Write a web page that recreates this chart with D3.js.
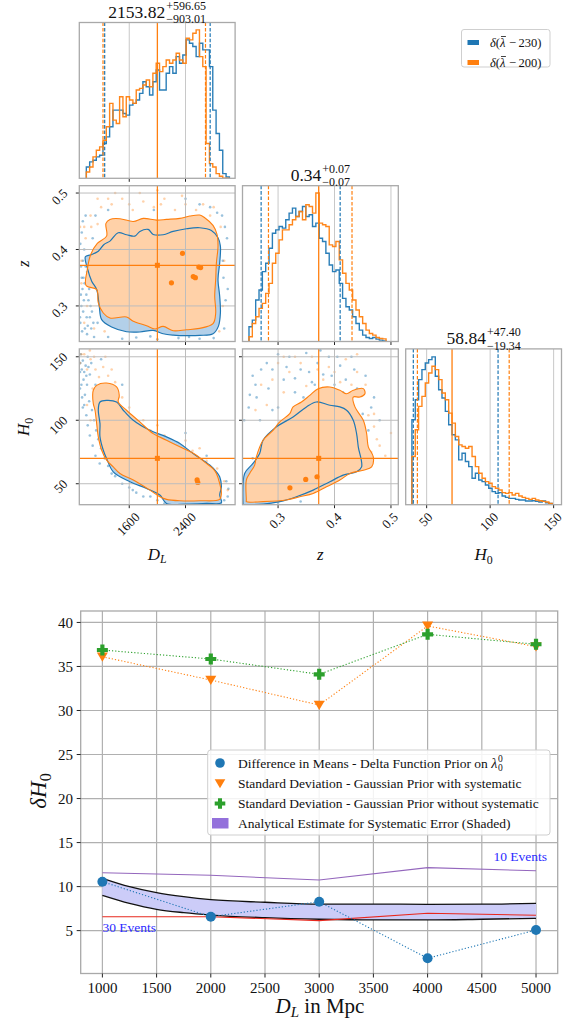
<!DOCTYPE html>
<html><head><meta charset="utf-8">
<script src="https://cdn.jsdelivr.net/npm/d3@7"></script>
<style>body{margin:0;background:#fff}svg{display:block}text{font-family:"Liberation Serif","Times New Roman",serif;fill:#111}</style>
</head><body>
<svg id="c" width="574" height="1025" font-family="Liberation Serif, Times New Roman, serif"></svg>
<script>
// ---------------- DATA: corner plot ----------------
const cornerVars = ["DL", "z", "H0"];
const axisDomains = {DL: [890, 3105], z: [0.237, 0.513], H0: [33.5, 156.2]};
const cornerTicks = {DL: [1600, 2400], z: [0.3, 0.4, 0.5], H0: [50, 100, 150]};
const truthValues = {DL: 2000, z: 0.372, H0: 70};
const titleDL = ["2153.82", "+596.65", "\u2212903.01"];
const titleZ = ["0.34", "+0.07", "\u22120.07"];
const titleH0 = ["58.84", "+47.40", "\u221219.34"];
const legendTop = ["230", "200"];

const dlHistRange = [990, 3024];
const dlHistBlue = [34,49,54,64,69,104,124,154,204,204,204,194,189,219,224,234,254,289,274,249,289,324,264,264,314,334,314,364,344,369,414,404,394,364,404,384,384,334,204,134,84,14,4];
const dlHistOrange = [19,34,64,84,94,114,154,224,174,164,244,184,244,234,224,264,269,279,294,274,314,344,319,334,354,344,354,374,354,344,419,414,434,444,364,334,104,44,34,14,6,0,0];
const zHistRange = [0.2485, 0.4913];
const zHistBlue = [44,64,124,154,209,234,279,324,334,344,339,364,384,399,374,389,404,374,379,344,354,309,299,264,229,209,214,174,129,104,94,74,54,34,19,12,9,12,7,4,2];
const zHistOrange = [14,54,74,99,114,144,174,234,264,304,334,334,349,364,374,389,364,409,404,384,444,354,349,344,289,284,299,244,204,174,154,124,94,74,54,34,24,19,12,9,8];
const h0HistRange = [38.4, 148.9];
const h0HistBlue = [254,314,374,404,424,434,442,384,344,319,279,239,209,194,134,154,129,114,79,94,74,69,59,49,39,34,36,26,22,19,19,16,14,14,11,11,12,10,8,11,6,4];
const h0HistOrange = [144,224,294,324,364,394,414,404,374,334,314,274,244,204,179,174,169,174,144,114,94,79,69,64,54,49,44,36,34,36,29,34,26,22,19,16,19,14,12,10,8,4];
const histMax = 466;

const dlQuantBlue = [1250.8, 2750.5], dlQuantOrange = [1227, 2684];
const zQuantBlue = [0.27, 0.41], zQuantOrange = [0.283, 0.431];
const h0QuantBlue = [39.5, 106.24], h0QuantOrange = [42.7, 115];

const contourZDLOrange = [[1269,0.4462],[1326,0.4533],[1468,0.4545],[1657,0.4497],[1799,0.4551],[1988,0.4521],[2130,0.4533],[2319,0.4551],[2460,0.4592],[2602,0.461],[2673,0.4562],[2791,0.4426],[2848,0.4266],[2862,0.4059],[2839,0.3763],[2829,0.3467],[2815,0.3171],[2829,0.2875],[2791,0.2686],[2602,0.2603],[2413,0.2579],[2224,0.2561],[2082,0.2638],[1964,0.2591],[1846,0.265],[1657,0.2727],[1562,0.2804],[1326,0.2786],[1231,0.2875],[1160,0.3053],[1137,0.329],[986,0.3361],[1004,0.3645],[1052,0.3911],[1146,0.4107],[1278,0.4237]];
const contourZDLBlue = [[1326,0.4148],[1444,0.4296],[1562,0.4261],[1680,0.4237],[1751,0.432],[1869,0.4355],[1940,0.4266],[2082,0.4261],[2224,0.432],[2413,0.4367],[2602,0.4385],[2768,0.4337],[2862,0.4207],[2896,0.4059],[2886,0.3763],[2862,0.3467],[2886,0.3171],[2896,0.2875],[2867,0.2638],[2791,0.2508],[2602,0.2478],[2413,0.2473],[2224,0.2484],[2082,0.2508],[1940,0.2567],[1751,0.2538],[1562,0.2543],[1349,0.2626],[1208,0.2757],[1174,0.2994],[1137,0.329],[1066,0.3438],[1004,0.3674],[976,0.387],[1052,0.3905],[1160,0.397],[1241,0.4089]];
const contourH0DLOrange = [[1137,127.5],[1278,129.3],[1420,126.2],[1458,119.6],[1444,114.4],[1562,107.9],[1751,98.7],[1940,89.5],[2130,84.3],[2319,79.1],[2555,72.5],[2697,66.0],[2791,62.0],[2839,58.1],[2886,50.2],[2910,42.4],[2886,37.7],[2602,36.6],[2319,36.6],[2130,37.7],[2035,39.8],[1893,45.0],[1657,52.9],[1468,58.1],[1373,63.3],[1278,68.6],[1208,76.4],[1160,86.9],[1137,97.4],[1113,107.9],[1089,113.1],[1080,119.6],[1089,123.6]];
const contourH0DLBlue = [[1184,114.4],[1278,115.7],[1420,114.4],[1515,107.9],[1657,100],[1893,92.1],[2130,86.9],[2319,81.7],[2508,73.8],[2744,64.7],[2839,59.4],[2886,55.5],[2910,47.6],[2886,41.1],[2910,35.1],[2697,34.5],[2413,34.0],[2130,34.5],[2035,41.1],[1846,46.3],[1609,51.6],[1373,59.4],[1278,69.9],[1231,76.4],[1184,86.9],[1184,97.4],[1160,107.9]];
const contourH0ZOrange = [[0.2438,37.2],[0.2438,52.9],[0.2497,58.1],[0.2586,64.7],[0.2615,71.2],[0.2734,84.3],[0.2911,92.1],[0.303,98.7],[0.3207,105.2],[0.3266,110.5],[0.3414,114.4],[0.3562,119.6],[0.371,124.9],[0.3918,126.2],[0.4095,123.6],[0.4214,120.9],[0.4332,123.6],[0.451,124.9],[0.4539,120.9],[0.4451,118.3],[0.4332,118.3],[0.4362,110.5],[0.451,100],[0.4569,89.5],[0.4599,79.1],[0.4687,71.2],[0.4658,63.3],[0.451,60.7],[0.4273,58.1],[0.4095,52.9],[0.3858,47.6],[0.3622,42.4],[0.3385,39.8],[0.3148,37.2],[0.2734,35.9],[0.2438,35.9]];
const contourH0ZBlue = [[0.2378,34.5],[0.2408,58.1],[0.2556,66.0],[0.2674,73.8],[0.2734,84.3],[0.297,94.8],[0.3266,102.6],[0.3503,110.5],[0.3681,114.4],[0.3918,111.8],[0.4095,110.5],[0.4214,107.9],[0.4332,100],[0.4391,89.5],[0.4421,79.1],[0.448,63.3],[0.4391,59.4],[0.4154,56.8],[0.3918,51.6],[0.3622,45.0],[0.3326,39.8],[0.303,35.9],[0.2734,34.0],[0.2378,34.0]];

const scatterZDLBlue = [[905,0.27],[920,0.30],[935,0.33],[950,0.35],[915,0.37],[945,0.29],[970,0.26],[1000,0.25],[1040,0.28],[1020,0.31],[960,0.40],[990,0.32],[1060,0.26],[1100,0.245],[1150,0.27],[1300,0.245],[1500,0.242],[1700,0.244],[2000,0.241],[2300,0.243],[2600,0.242],[2800,0.243],[2950,0.26],[2970,0.31],[2940,0.35],[2990,0.42],[2920,0.46],[2750,0.475],[2600,0.48],[2400,0.49],[1950,0.47],[1300,0.47],[940,0.45],[1080,0.42],[1000,0.36],[930,0.255],[900,0.28],[912,0.32],[925,0.35],[940,0.38],[955,0.31],[965,0.34],[980,0.37],[995,0.28],[1010,0.265],[1030,0.33],[1050,0.30],[1070,0.29],[1090,0.27],[905,0.41],[925,0.43],[980,0.46],[1120,0.46],[2930,0.38],[2960,0.44],[3000,0.33],[2850,0.465],[2700,0.25],[2450,0.245],[1900,0.246]];
const scatterZDLOrange = [[1050,0.46],[1200,0.475],[1350,0.48],[1500,0.49],[1650,0.47],[1800,0.485],[1950,0.475],[2100,0.49],[2250,0.47],[2400,0.48],[2550,0.47],[2750,0.46],[2900,0.44],[2950,0.38],[2930,0.30],[900,0.44],[980,0.42],[1000,0.30],[1100,0.26],[1250,0.255],[2880,0.255],[1400,0.50],[2000,0.505],[920,0.34],[1150,0.445],[1150,0.49],[1300,0.49],[1600,0.48],[1750,0.50],[2050,0.48],[2350,0.495],[2650,0.48],[2800,0.475],[960,0.44],[1060,0.44],[920,0.38],[960,0.27]];
const scatterH0DLBlue = [[910,152],[940,147],[980,143],[1010,150],[900,138],[950,132],[1000,128],[1040,136],[970,120],[1030,115],[1070,108],[1100,100],[1130,92],[1160,85],[1200,78],[1250,70],[1300,64],[1400,56],[1500,50],[1650,45],[1800,40],[2000,37],[2300,35.5],[2600,35],[2800,35.5],[2950,37],[3000,40],[3010,46],[2980,52],[920,128],[1060,145],[1120,128],[1200,148],[940,110],[1500,128],[2400,90],[2700,72],[905,145],[925,140],[960,138],[990,135],[1020,142],[900,125],[930,118],[960,112],[990,104],[1010,96],[1040,88],[1080,80],[1120,72],[1180,66],[1350,58],[1600,47],[1900,40],[2200,36],[2500,35],[2850,36],[2900,34.5],[2100,34.5],[1700,43]];
const scatterH0DLOrange = [[960,152],[1000,140],[1050,148],[1120,140],[1170,134],[1230,142],[1300,135],[1080,125],[1000,112],[1050,100],[1150,110],[1450,118],[1550,105],[1700,98],[1900,92],[2100,88],[2300,82],[2500,76],[2700,68],[2850,62],[2950,52],[3000,45],[900,145],[1350,125],[1800,100],[1250,80],[920,152],[1040,155],[1100,150],[1260,150],[1350,140],[1400,130],[1500,118],[1600,110],[2000,96],[2400,84],[2600,78],[1180,125]];
const scatterH0ZBlue = [[0.255,135],[0.262,118],[0.268,100],[0.283,125],[0.29,140],[0.30,110],[0.31,132],[0.32,150],[0.33,122],[0.34,140],[0.35,153],[0.36,130],[0.37,145],[0.375,155],[0.38,136],[0.39,150],[0.40,128],[0.41,143],[0.42,132],[0.43,150],[0.44,125],[0.45,105],[0.46,92],[0.47,118],[0.48,100],[0.29,108],[0.245,40],[0.25,36],[0.27,35],[0.30,35],[0.34,36],[0.242,45],[0.26,38],[0.25,120],[0.26,128],[0.27,140],[0.28,145],[0.30,152],[0.315,142],[0.33,133],[0.345,118],[0.355,138],[0.365,128],[0.385,125],[0.395,135],[0.405,150],[0.415,122],[0.435,140],[0.455,135],[0.465,110],[0.245,52],[0.25,60],[0.255,70],[0.24,100],[0.248,110]];
const scatterH0ZOrange = [[0.27,128],[0.28,112],[0.30,145],[0.32,138],[0.33,150],[0.35,127],[0.36,150],[0.38,132],[0.39,142],[0.41,130],[0.42,148],[0.44,138],[0.455,128],[0.46,104],[0.47,95],[0.48,80],[0.49,72],[0.44,152],[0.31,122],[0.26,108],[0.45,85],[0.29,132],[0.31,150],[0.34,145],[0.37,140],[0.40,138],[0.43,128],[0.47,105],[0.475,85],[0.465,75],[0.50,90]];
const blobsZDL = [[2357,0.393],[2590,0.369],[2615,0.368],[2510,0.352],[2540,0.350],[2200,0.341]];
const blobsH0DL = [[2565,53],[2575,51]];
const blobsH0Z = [[0.349,53.4],[0.369,55.5],[0.321,46.8]];

// ---------------- DATA: bottom chart ----------------
const distances = [1000, 2000, 3000, 4000, 5000];
const diffMeans = [10.56, 6.58, 8.28, 1.86, 5.07];
const stdWithSys = [36.1, 33.46, 30.62, 39.6, 37.25];
const stdWithoutSys = [36.87, 35.85, 34.11, 38.65, 37.52];
const events10 = [11.58, 11.28, 10.75, 12.15, 11.8];
const events30 = [6.58, 6.58, 6.13, 6.97, 6.74];
const bandDistances = [1000, 1250, 1500, 1750, 2000, 2500, 3000, 3500, 4000, 4500, 5000];
const bandUpper = [10.94, 9.99, 9.31, 8.85, 8.51, 8.22, 8.02, 8.02, 7.98, 8.0, 8.1];
const bandLower = [9.01, 8.1, 7.42, 7.04, 6.77, 6.47, 6.29, 6.21, 6.21, 6.29, 6.4];
const xTicksBottom = [1000, 1500, 2000, 2500, 3000, 3500, 4000, 4500, 5000];
const yTicksBottom = [5, 10, 15, 20, 25, 30, 35, 40];
const legendLabels = ["Difference in Means - Delta Function Prior on", "Standard Deviation - Gaussian Prior with systematic", "Standard Deviation - Gaussian Prior without systematic", "Analytical Estimate for Systematic Error (Shaded)"];

// ---------------- DRAW ----------------
const FONT = "Liberation Serif, Times New Roman, serif";
const BLUE = "#1f77b4", ORANGE = "#ff7f0e", GREEN = "#2ca02c";
const svg = d3.select("#c");
svg.append("rect").attr("width", 574).attr("height", 1025).attr("fill", "#fff");
const defs = svg.append("defs");
const PS = 155.8, colX = [79.3, 242.5, 405.7], rowY = [22.5, 185.7, 348.9];
const fmt = {DL: d => String(d), z: d => d.toFixed(1), H0: d => String(d)};
const histData = {
  DL: {range: dlHistRange, blue: dlHistBlue, orange: dlHistOrange, qb: dlQuantBlue, qo: dlQuantOrange, title: titleDL},
  z: {range: zHistRange, blue: zHistBlue, orange: zHistOrange, qb: zQuantBlue, qo: zQuantOrange, title: titleZ},
  H0: {range: h0HistRange, blue: h0HistBlue, orange: h0HistOrange, qb: h0QuantBlue, qo: h0QuantOrange, title: titleH0}
};
const pairData = {
  "z-DL": {cb: contourZDLBlue, co: contourZDLOrange, sb: scatterZDLBlue, so: scatterZDLOrange, blobs: blobsZDL},
  "H0-DL": {cb: contourH0DLBlue, co: contourH0DLOrange, sb: scatterH0DLBlue, so: scatterH0DLOrange, blobs: blobsH0DL},
  "H0-z": {cb: contourH0ZBlue, co: contourH0ZOrange, sb: scatterH0ZBlue, so: scatterH0ZOrange, blobs: blobsH0Z}
};
const xsc = (v, c) => d3.scaleLinear().domain(axisDomains[v]).range([colX[c], colX[c] + PS]);
const ysc = (v, r) => d3.scaleLinear().domain(axisDomains[v]).range([rowY[r] + PS, rowY[r]]);
const txt = (p) => p.append("text").attr("font-family", FONT);

function stepPoints(range, counts) {
  const n = counts.length, w = (range[1] - range[0]) / n;
  const pts = [[range[0], 0]];
  counts.forEach((c, i) => { pts.push([range[0] + i * w, c]); pts.push([range[0] + (i + 1) * w, c]); });
  pts.push([range[1], 0]);
  return pts;
}

for (let r = 0; r < 3; r++) for (let c = 0; c <= r; c++) {
  const x0 = colX[c], y0 = rowY[r];
  const g = svg.append("g");
  const cid = "clip" + r + c;
  defs.append("clipPath").attr("id", cid).append("rect").attr("x", x0).attr("y", y0).attr("width", PS).attr("height", PS);
  const inner = g.append("g").attr("clip-path", `url(#${cid})`);
  const xv = cornerVars[c], x = xsc(xv, c);
  if (r === c) {
    const hd = histData[xv];
    const y = d3.scaleLinear().domain([0, histMax]).range([y0 + PS, y0]);
    cornerTicks[xv].forEach(t => inner.append("line").attr("x1", x(t)).attr("x2", x(t)).attr("y1", y0).attr("y2", y0 + PS).attr("stroke", "#c8c8c8").attr("stroke-width", 1));
    const line = d3.line().x(d => x(d[0])).y(d => y(d[1]));
    [["blue", BLUE], ["orange", ORANGE]].forEach(([k, col]) => {
      inner.append("path").attr("d", line(stepPoints(hd.range, hd[k]))).attr("fill", "none").attr("stroke", col).attr("stroke-width", 1.4).attr("stroke-opacity", 0.95);
    });
    [[hd.qb, BLUE], [hd.qo, ORANGE]].forEach(([q, col]) => q.forEach(v => inner.append("line").attr("x1", x(v)).attr("x2", x(v)).attr("y1", y0).attr("y2", y0 + PS).attr("stroke", col).attr("stroke-width", 1.2).attr("stroke-dasharray", "3.6,1.8")));
    inner.append("line").attr("x1", x(truthValues[xv])).attr("x2", x(truthValues[xv])).attr("y1", y0).attr("y2", y0 + PS).attr("stroke", ORANGE).attr("stroke-width", 1.3);
    // title
    const [m, sp, sb] = hd.title;
    const tg = svg.append("g");
    const mt = txt(tg).attr("x", 0).attr("y", y0 - 5).attr("font-size", 17.5).text(m);
    const mw = mt.node().getComputedTextLength();
    const st = txt(tg).attr("x", mw + 1).attr("y", y0 - 12.8).attr("font-size", 12).text(sp);
    const bt = txt(tg).attr("x", mw + 1).attr("y", y0 + 0.6).attr("font-size", 12).text(sb);
    const tw = mw + 1 + Math.max(st.node().getComputedTextLength(), bt.node().getComputedTextLength());
    tg.attr("transform", `translate(${x0 + PS / 2 - tw / 2},0)`);
  } else {
    const yv = cornerVars[r], y = ysc(yv, r);
    const pd = pairData[yv + "-" + xv];
    const line = d3.line().x(d => x(d[0])).y(d => y(d[1])).curve(d3.curveCatmullRomClosed.alpha(0.5));
    pd.sb.forEach(p => inner.append("circle").attr("cx", x(p[0])).attr("cy", y(p[1])).attr("r", 1.3).attr("fill", BLUE).attr("fill-opacity", 0.45));
    pd.so.forEach(p => inner.append("circle").attr("cx", x(p[0])).attr("cy", y(p[1])).attr("r", 1.3).attr("fill", ORANGE).attr("fill-opacity", 0.35));
    inner.append("path").attr("d", line(pd.cb)).attr("fill", "#b3d0e9");
    inner.append("path").attr("d", line(pd.co)).attr("fill", "#ffd1a8");
    pd.blobs.forEach(p => inner.append("circle").attr("cx", x(p[0])).attr("cy", y(p[1])).attr("r", 2.6).attr("fill", ORANGE));
    cornerTicks[xv].forEach(t => inner.append("line").attr("x1", x(t)).attr("x2", x(t)).attr("y1", y0).attr("y2", y0 + PS).attr("stroke", "#bdbdbd").attr("stroke-width", 1));
    cornerTicks[yv].forEach(t => inner.append("line").attr("y1", y(t)).attr("y2", y(t)).attr("x1", x0).attr("x2", x0 + PS).attr("stroke", "#bdbdbd").attr("stroke-width", 1));
    inner.append("path").attr("d", line(pd.cb)).attr("fill", "none").attr("stroke", BLUE).attr("stroke-width", 1.2);
    inner.append("path").attr("d", line(pd.co)).attr("fill", "none").attr("stroke", ORANGE).attr("stroke-width", 1.1);
    inner.append("line").attr("x1", x(truthValues[xv])).attr("x2", x(truthValues[xv])).attr("y1", y0).attr("y2", y0 + PS).attr("stroke", ORANGE).attr("stroke-width", 1.2);
    inner.append("line").attr("y1", y(truthValues[yv])).attr("y2", y(truthValues[yv])).attr("x1", x0).attr("x2", x0 + PS).attr("stroke", ORANGE).attr("stroke-width", 1.2);
    inner.append("rect").attr("x", x(truthValues[xv]) - 2.5).attr("y", y(truthValues[yv]) - 2.5).attr("width", 5).attr("height", 5).attr("fill", ORANGE);
    cornerTicks[yv].forEach(t => {
      g.append("line").attr("x1", x0 - 3.5).attr("x2", x0).attr("y1", y(t)).attr("y2", y(t)).attr("stroke", "#222").attr("stroke-width", 1);
      if (c === 0) txt(g).attr("text-anchor", "end").attr("dominant-baseline", "middle").attr("font-size", 13)
        .attr("transform", `translate(${x0 - 13},${y(t) - 1}) rotate(-45)`).text(fmt[yv](t));
    });
  }
  cornerTicks[xv].forEach(t => {
    g.append("line").attr("x1", x(t)).attr("x2", x(t)).attr("y1", y0 + PS).attr("y2", y0 + PS + 3.5).attr("stroke", "#222").attr("stroke-width", 1);
    if (r === 2) {
      const tt = txt(g).attr("text-anchor", "middle").attr("dominant-baseline", "middle").attr("font-size", 13).text(fmt[xv](t));
      const L = tt.node().getComputedTextLength();
      const s = (L + 9) * 0.707;
      tt.attr("transform", `translate(${x(t)},${y0 + PS + 8 + s / 2}) rotate(-45)`);
    }
  });
  g.append("rect").attr("x", x0).attr("y", y0).attr("width", PS).attr("height", PS).attr("fill", "none").attr("stroke", "#a9a9a9").attr("stroke-width", 1.3);
}

function subLabel(parent, main, sub, size, subItalic) {
  const t = txt(parent).attr("font-size", size);
  t.append("tspan").attr("font-style", "italic").text(main);
  t.append("tspan").attr("font-style", subItalic ? "italic" : "normal").attr("font-size", size * 0.7).attr("dy", size * 0.22).text(sub);
  return t;
}
subLabel(svg, "D", "L", 17, true).attr("text-anchor", "middle").attr("x", colX[0] + PS / 2).attr("y", 559.5);
txt(svg).attr("font-size", 17).attr("font-style", "italic").attr("text-anchor", "middle").attr("x", colX[1] + PS / 2).attr("y", 560).text("z");
subLabel(svg, "H", "0", 17, false).attr("text-anchor", "middle").attr("x", colX[2] + PS / 2).attr("y", 560);
txt(svg).attr("font-size", 17).attr("font-style", "italic").attr("text-anchor", "middle").attr("transform", `translate(29,${rowY[1] + PS / 2}) rotate(-90)`).text("z");
subLabel(svg, "H", "0", 17, false).attr("text-anchor", "middle").attr("transform", `translate(29,${rowY[2] + PS / 2}) rotate(-90)`);

// top-right legend
const lg = svg.append("g");
lg.append("rect").attr("x", 461.5).attr("y", 29.5).attr("width", 88.5).attr("height", 37.5).attr("rx", 2.5).attr("fill", "#fff").attr("stroke", "#cfcfcf").attr("stroke-width", 1);
[[BLUE, legendTop[0], 42.5], [ORANGE, legendTop[1], 62.5]].forEach(([col, v, yy]) => {
  lg.append("rect").attr("x", 467.5).attr("y", yy - 2.5).attr("width", 11.5).attr("height", 5).attr("fill", col);
  let cx = 490;
  const parts = [["\u03b4", true], ["(", false], ["\u03bb", true], ["\u2009\u2212\u2009" + v + ")", false]];
  parts.forEach(([s, it], k) => {
    const t = txt(lg).attr("x", cx).attr("y", yy + 4).attr("font-size", 12.5).attr("font-style", it ? "italic" : "normal").text(s);
    const w = t.node().getComputedTextLength();
    if (k === 2) lg.append("line").attr("x1", cx + 1).attr("x2", cx + w + 0.5).attr("y1", yy - 6).attr("y2", yy - 6).attr("stroke", "#111").attr("stroke-width", 0.8);
    cx += w + (k === 2 ? 1 : 0);
  });
});

// ---------------- BOTTOM CHART ----------------
const bx = d3.scaleLinear().domain([800, 5200]).range([80.7, 557.7]);
const by = d3.scaleLinear().domain([0.13, 41.3]).range([973.5, 611]);
const bg = svg.append("g");
xTicksBottom.forEach(t => bg.append("line").attr("x1", bx(t)).attr("x2", bx(t)).attr("y1", 611).attr("y2", 973.5).attr("stroke", "#b0b0b0").attr("stroke-width", 1.2));
yTicksBottom.forEach(t => bg.append("line").attr("y1", by(t)).attr("y2", by(t)).attr("x1", 80.7).attr("x2", 557.7).attr("stroke", "#b0b0b0").attr("stroke-width", 1.2));
const bandArea = d3.area().x((d, i) => bx(bandDistances[i])).y0((d, i) => by(bandLower[i])).y1((d, i) => by(bandUpper[i])).curve(d3.curveMonotoneX);
bg.append("path").attr("d", bandArea(bandDistances)).attr("fill", "#ccccf8");
const lineOf = (xs, ys, curve) => d3.line().x((d, i) => bx(xs[i])).y((d, i) => by(ys[i])).curve(curve || d3.curveLinear)(xs);
bg.append("path").attr("d", lineOf(bandDistances, bandUpper, d3.curveMonotoneX)).attr("fill", "none").attr("stroke", "#111").attr("stroke-width", 1.3);
bg.append("path").attr("d", lineOf(bandDistances, bandLower, d3.curveMonotoneX)).attr("fill", "none").attr("stroke", "#111").attr("stroke-width", 1.3);
bg.append("path").attr("d", lineOf(distances, events30)).attr("fill", "none").attr("stroke", "#e8281e").attr("stroke-width", 1.1);
bg.append("path").attr("d", lineOf(distances, events10)).attr("fill", "none").attr("stroke", "#9467bd").attr("stroke-width", 1.1);

function triDown(cx, cy, s) { return `M${cx - s},${cy - s * 0.8}L${cx + s},${cy - s * 0.8}L${cx},${cy + s * 0.9}Z`; }
function plusP(cx, cy, s) { const t = s * 0.38; return `M${cx - t},${cy - s}H${cx + t}V${cy - t}H${cx + s}V${cy + t}H${cx + t}V${cy + s}H${cx - t}V${cy + t}H${cx - s}V${cy - t}H${cx - t}Z`; }

bg.append("path").attr("d", lineOf(distances, diffMeans)).attr("fill", "none").attr("stroke", BLUE).attr("stroke-width", 1.1).attr("stroke-dasharray", "1.2,2");
distances.forEach((d, i) => bg.append("circle").attr("cx", bx(d)).attr("cy", by(diffMeans[i])).attr("r", 5).attr("fill", BLUE));
bg.append("path").attr("d", lineOf(distances, stdWithSys)).attr("fill", "none").attr("stroke", ORANGE).attr("stroke-width", 1.1).attr("stroke-dasharray", "1.2,2");
distances.forEach((d, i) => bg.append("path").attr("d", triDown(bx(d), by(stdWithSys[i]), 5.5)).attr("fill", ORANGE));
bg.append("path").attr("d", lineOf(distances, stdWithoutSys)).attr("fill", "none").attr("stroke", GREEN).attr("stroke-width", 1.1).attr("stroke-dasharray", "1.2,2");
distances.forEach((d, i) => bg.append("path").attr("d", plusP(bx(d), by(stdWithoutSys[i]), 5.5)).attr("fill", GREEN));

txt(bg).attr("x", bx(4607)).attr("y", by(12.9)).attr("font-size", 13.5).style("fill", "#2b2bff").text("10 Events");
txt(bg).attr("x", bx(1000)).attr("y", by(4.85)).attr("font-size", 13.5).style("fill", "#2b2bff").text("30 Events");

bg.append("rect").attr("x", 80.7).attr("y", 611).attr("width", 477).attr("height", 362.5).attr("fill", "none").attr("stroke", "#a9a9a9").attr("stroke-width", 1.3);
xTicksBottom.forEach(t => {
  bg.append("line").attr("x1", bx(t)).attr("x2", bx(t)).attr("y1", 973.5).attr("y2", 977.5).attr("stroke", "#222");
  txt(bg).attr("x", bx(t)).attr("y", 993).attr("text-anchor", "middle").attr("font-size", 15).text(t);
});
yTicksBottom.forEach(t => {
  bg.append("line").attr("x1", 76.7).attr("x2", 80.7).attr("y1", by(t)).attr("y2", by(t)).attr("stroke", "#222");
  txt(bg).attr("x", 73).attr("y", by(t)).attr("dy", "0.35em").attr("text-anchor", "end").attr("font-size", 15).text(t);
});
const yl = txt(bg).attr("font-size", 23).attr("text-anchor", "middle").attr("transform", "translate(46,791) rotate(-90)");
yl.append("tspan").attr("font-style", "italic").text("\u03b4H");
yl.append("tspan").attr("font-size", 16).attr("dy", 5).text("0");
const xl = txt(bg).attr("font-size", 21).attr("text-anchor", "middle").attr("x", 320).attr("y", 1013);
xl.append("tspan").attr("font-style", "italic").text("D");
xl.append("tspan").attr("font-style", "italic").attr("font-size", 15).attr("dy", 4).text("L");
xl.append("tspan").attr("dy", -4).text("\u00a0in Mpc");

// bottom legend
const bl = svg.append("g");
bl.append("rect").attr("x", 207.7).attr("y", 750).attr("width", 342.3).attr("height", 85).attr("rx", 3).attr("fill", "#fff").attr("fill-opacity", 0.85).attr("stroke", "#cfcfcf");
const rowsY = [763, 783.5, 803.5, 823.5];
bl.append("circle").attr("cx", 220).attr("cy", rowsY[0]).attr("r", 4.8).attr("fill", BLUE);
bl.append("path").attr("d", triDown(220, rowsY[1], 5.3)).attr("fill", ORANGE);
bl.append("path").attr("d", plusP(220, rowsY[2], 5.3)).attr("fill", GREEN);
bl.append("rect").attr("x", 212).attr("y", rowsY[3] - 5.5).attr("width", 16.5).attr("height", 10.5).attr("fill", "#9370db");
legendLabels.forEach((lab, i) => {
  const t = txt(bl).attr("x", 238).attr("y", rowsY[i]).attr("dy", "0.35em").attr("font-size", 13.5).text(lab);
  if (i === 0) {
    const w = t.node().getComputedTextLength() + 3.5;
    const lam = txt(bl).attr("x", 238 + w).attr("y", rowsY[0]).attr("dy", "0.35em").attr("font-size", 14).attr("font-style", "italic").text("\u03bb");
    const lw = lam.node().getComputedTextLength();
    txt(bl).attr("x", 238 + w + lw + 0.5).attr("y", rowsY[0] + 8).attr("font-size", 9.5).text("0");
    txt(bl).attr("x", 238 + w + lw + 0.5).attr("y", rowsY[0] - 1.5).attr("font-size", 9.5).text("0");
  }
});
</script>
</body></html>
